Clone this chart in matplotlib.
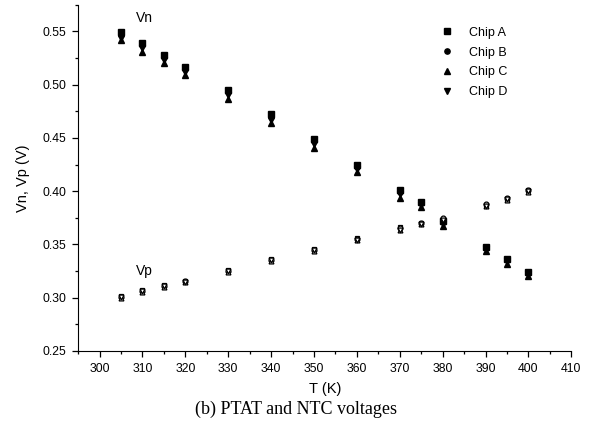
import numpy as np
import matplotlib
matplotlib.use('Agg')
from matplotlib import pyplot as plt
from matplotlib.ticker import MultipleLocator

plt.rcParams['font.family'] = ['Liberation Sans', 'DejaVu Sans']

# Data

temps = [305, 310, 315, 320, 330, 340, 350, 360, 370, 375, 380, 390, 395, 400]

vn_a = [0.549, 0.539, 0.528, 0.517, 0.495, 0.472, 0.449, 0.425, 0.401, 0.390, 0.372, 0.348, 0.336, 0.324]
vn_b = [0.547, 0.537, 0.526, 0.515, 0.493, 0.470, 0.447, 0.423, 0.399, 0.389, 0.371, 0.347, 0.335, 0.323]
vn_c = [0.542, 0.531, 0.520, 0.509, 0.487, 0.464, 0.441, 0.418, 0.394, 0.385, 0.367, 0.344, 0.332, 0.320]
vn_d = [0.544, 0.534, 0.523, 0.512, 0.490, 0.467, 0.444, 0.421, 0.397, 0.387, 0.369, 0.346, 0.334, 0.322]

vp_a = [0.302, 0.307, 0.312, 0.316, 0.326, 0.336, 0.346, 0.356, 0.366, 0.370, 0.373, 0.387, 0.393, 0.401]
vp_b = [0.301, 0.306, 0.311, 0.316, 0.325, 0.335, 0.345, 0.355, 0.365, 0.370, 0.375, 0.388, 0.394, 0.401]
vp_c = [0.300, 0.305, 0.310, 0.315, 0.324, 0.334, 0.344, 0.354, 0.364, 0.369, 0.372, 0.386, 0.392, 0.399]
vp_d = [0.301, 0.306, 0.311, 0.315, 0.325, 0.335, 0.345, 0.354, 0.364, 0.369, 0.373, 0.386, 0.393, 0.400]

chips = ['Chip A', 'Chip B', 'Chip C', 'Chip D']
markers = ['s', 'o', '^', 'v']

# Plot

fig = plt.figure(figsize=(5.92, 4.37), dpi=100)
ax = fig.add_axes([0.132, 0.197, 0.833, 0.792])

for name, m, vn, vp in zip(chips, markers, [vn_a, vn_b, vn_c, vn_d], [vp_a, vp_b, vp_c, vp_d]):
	ax.plot(temps, vn, ls='none', marker=m, ms=3.8, color='black', label=name)
	ax.plot(temps, vp, ls='none', marker=m, ms=3.5, mfc='white', mec='black', mew=0.9)

ax.set_xlim(295, 410)
ax.set_ylim(0.25, 0.575)
ax.xaxis.set_major_locator(MultipleLocator(10))
ax.xaxis.set_minor_locator(MultipleLocator(5))
ax.yaxis.set_major_locator(MultipleLocator(0.05))
ax.yaxis.set_minor_locator(MultipleLocator(0.025))
ax.set_xticks(np.arange(300, 411, 10))
ax.yaxis.set_major_formatter(plt.FormatStrFormatter('%.2f'))

for side in ('top', 'right'):
	ax.spines[side].set_visible(False)
ax.tick_params(which='major', direction='out', length=4.5, width=0.9, labelsize=8.8, pad=4)
ax.tick_params(which='minor', direction='out', length=2.5, width=0.9)

ax.set_xlabel('T (K)', fontsize=10.5, labelpad=5)
ax.set_ylabel('Vn, Vp (V)', fontsize=10.5, labelpad=9)

ax.text(308.5, 0.563, 'Vn', fontsize=10, va='center')
ax.text(308.5, 0.3255, 'Vp', fontsize=10, va='center')

ax.legend(loc='upper left', bbox_to_anchor=(0.726, 0.951), frameon=False, fontsize=9,
		  handletextpad=1.2, labelspacing=0.62, handlelength=1.0, borderaxespad=0)

fig.text(0.5, 0.064, '(b) PTAT and NTC voltages', ha='center', va='center', fontsize=13,
		 family='Liberation Serif')

fig.savefig('out.png')
